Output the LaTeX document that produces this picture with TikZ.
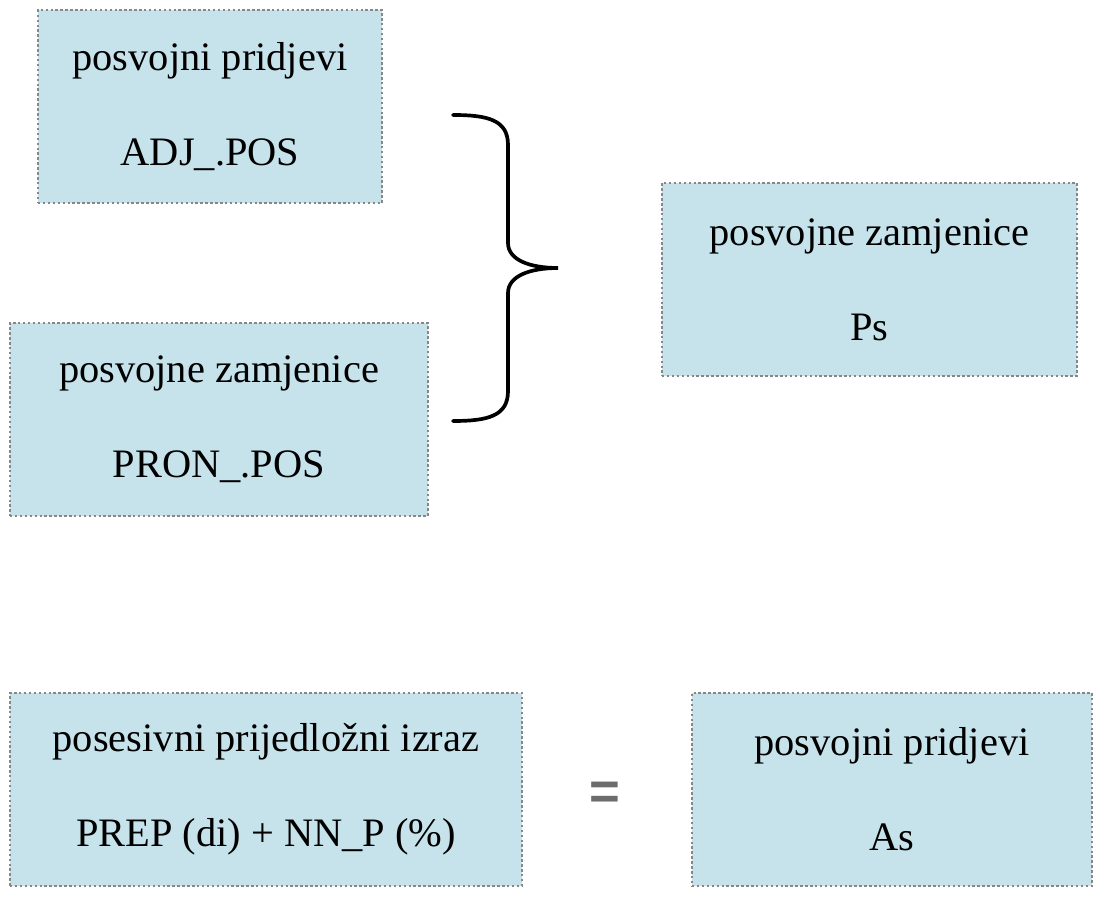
\documentclass[tikz,border=0pt]{standalone}
\usepackage{fontspec}
\setmainfont{Liberation Serif}
\newfontfamily\eqfont{Liberation Sans}
\usepackage{xcolor}
\usepackage{tikz}
\usetikzlibrary{positioning}

\definecolor{boxfill}{RGB}{198,227,236}
\definecolor{boxline}{RGB}{135,135,135}

\begin{document}
\begin{tikzpicture}[
  font=\fontsize{11.5}{27}\selectfont,
  posbox/.style={rectangle, fill=boxfill, draw=boxline, line width=0.75pt,
    dash pattern=on 0.7pt off 0.7pt, align=center, minimum height=1.93cm,
    inner sep=0pt},
  bracepath/.style={draw=black, line width=1.05pt, line cap=round},
  eqsign/.style={font=\eqfont\bfseries\fontsize{15}{15}\selectfont, text=gray!85!black}
]
\useasboundingbox (0,0) rectangle (10.97,9.00);

% ============ TOP : TWO SOURCES -> Ps ============
\node[posbox, minimum width=3.44cm] (adjpos) at (2.10,7.935)
  {posvojni pridjevi\\ADJ\_.POS};
\node[posbox, minimum width=4.18cm] (pronpos) at (2.19,4.805)
  {posvojne zamjenice\\PRON\_.POS};
\node[posbox, minimum width=4.15cm] (ps) at (8.695,6.205)
  {posvojne zamjenice\\Ps};

\draw[bracepath] (4.53,7.85) .. controls (4.88,7.85) and (5.08,7.80) .. (5.08,7.55)
  -- (5.08,6.57) .. controls (5.08,6.40) and (5.30,6.32) .. (5.58,6.32)
  .. controls (5.30,6.32) and (5.08,6.24) .. (5.08,6.07)
  -- (5.08,5.09) .. controls (5.08,4.84) and (4.88,4.79) .. (4.53,4.79);

% ============ BOTTOM : PREP PHRASE = As ============
\node[posbox, minimum width=5.12cm] (prepnn) at (2.66,1.105)
  {posesivni prijedložni izraz\\PREP (di) + NN\_P (\%)};
\node[posbox, minimum width=4.00cm] (as) at (8.92,1.105)
  {posvojni pridjevi\\As};
\node[eqsign] (eq) at (6.05,1.04) {=};

\end{tikzpicture}
\end{document}
